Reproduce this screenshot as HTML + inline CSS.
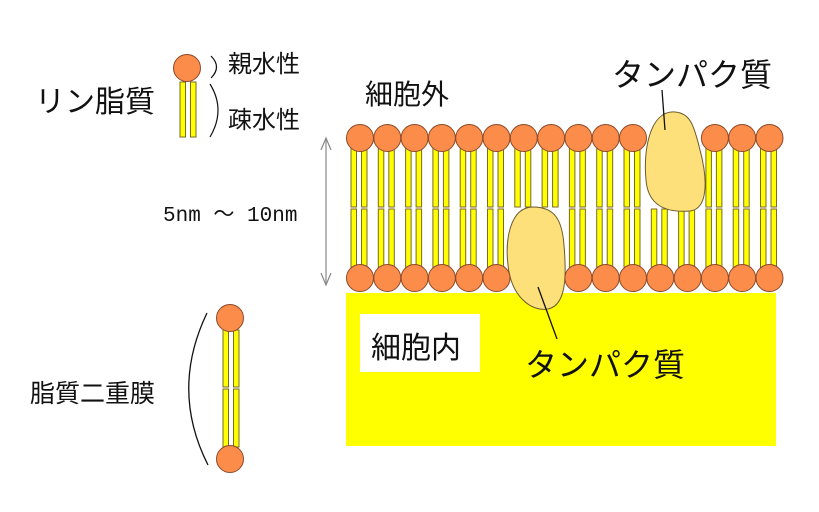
<!DOCTYPE html>
<html><head><meta charset="utf-8"><style>
html,body{margin:0;padding:0;background:#fff;}
svg{display:block;}
text{font-family:"Liberation Sans","Noto Sans CJK JP",sans-serif;fill:#111;}
</style></head><body>
<svg width="819" height="512" viewBox="0 0 819 512" xmlns="http://www.w3.org/2000/svg">
<rect x="346" y="293" width="430" height="153" fill="#ffff00"/>
<rect x="360" y="314" width="120" height="58" fill="#fff"/>
<text x="371" y="358" font-size="30">細胞内</text>
<g id="mem" stroke="#7a6a2a" stroke-width="1" fill="#ffff00"></g>
<line x1="326" y1="138" x2="326" y2="285" stroke="#888" stroke-width="1.2"/>
<path d="M321,150 L326,138 L331,150" fill="none" stroke="#888" stroke-width="1.2"/>
<path d="M321,273 L326,285 L331,273" fill="none" stroke="#888" stroke-width="1.2"/>
<text x="163" y="221" font-size="21" style="font-family:'Liberation Mono','DejaVu Sans Mono','Noto Sans CJK JP',monospace">5nm 〜 10nm</text>
<text x="35" y="112" font-size="30">リン脂質</text>
<text x="228" y="72" font-size="24">親水性</text>
<text x="228" y="128" font-size="24">疎水性</text>
<text x="365" y="104" font-size="28">細胞外</text>
<text x="30" y="402" font-size="25">脂質二重膜</text>
<text x="612" y="86" font-size="32">タンパク質</text>
<text x="525" y="376" font-size="32">タンパク質</text>
<path d="M211,56 Q222,67 211,78" fill="none" stroke="#111" stroke-width="1.2"/>
<path d="M210,84 Q226,110 210,137" fill="none" stroke="#111" stroke-width="1.2"/>
<path d="M207,313 Q170,390 208,465" fill="none" stroke="#111" stroke-width="1.3"/>
<line x1="662" y1="90" x2="665" y2="130" stroke="#111" stroke-width="1.3"/>
<line x1="538" y1="287" x2="557" y2="339" stroke="#111" stroke-width="1.3"/>
</svg>
<script>
(function(){
var g=document.getElementById('mem');var ns='http://www.w3.org/2000/svg';
function el(t,a){var e=document.createElementNS(ns,t);for(var k in a)e.setAttribute(k,a[k]);g.appendChild(e);return e;}
function bars(cx,y1,y2){el('rect',{x:cx-9,y:y1,width:5.5,height:y2-y1,fill:'#ffff00',stroke:'#7a6a2a'});el('rect',{x:cx+1.5,y:y1,width:5.5,height:y2-y1,fill:'#ffff00',stroke:'#7a6a2a'});}
function circ(cx,cy){el('circle',{cx:cx,cy:cy,r:13.5,fill:'#fb8c4a',stroke:'#8a4a2a'});}
for(var k=0;k<16;k++){var cx=360+27.3*k;
 if(!(k==11||k==12)) bars(cx,148,207);
 if(!(k==6||k==7)) bars(cx,209,268);
}
el('path',{d:'M675,112 C650,110 643,150 646,180 C648,205 665,213 690,211 C708,209 708,180 700,150 C694,125 690,113 675,112 Z',fill:'#fde07a',stroke:'#6a5a2a'});
el('path',{d:'M533,207 C510,207 505,240 508,265 C511,295 530,312 548,309 C568,305 566,270 564,245 C562,220 555,207 533,207 Z',fill:'#fde07a',stroke:'#6a5a2a'});
for(var k=0;k<16;k++){var cx=360+27.3*k;
 if(!(k==11||k==12)) circ(cx,138);
 if(!(k==6||k==7)) circ(cx,278);
}
bars(187+2,82,137);circ(187,68);
bars(230+2,330,387);bars(230+2,389,447);circ(230,318);circ(230,459);
})();
</script>
</body></html>
